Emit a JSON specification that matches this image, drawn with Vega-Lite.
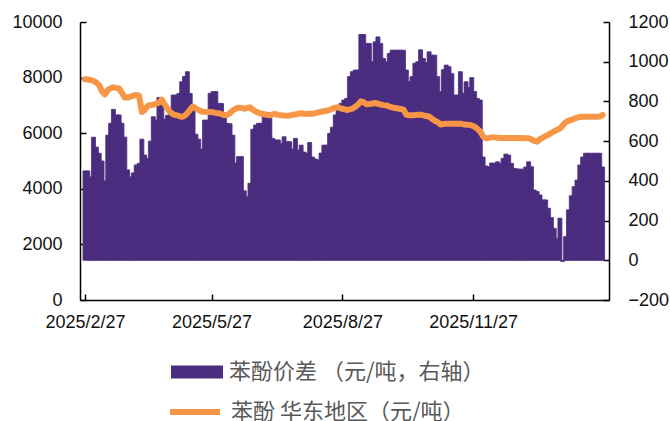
{
  "$schema": "https://vega.github.io/schema/vega-lite/v6.json",
  "width": 529,
  "height": 278,
  "autosize": {"type": "none"},
  "padding": {"left": 80, "top": 22, "right": 61, "bottom": 121},
  "background": "white",
  "config": {
    "view": {"stroke": null},
    "axis": {
      "labelFont": "Liberation Sans",
      "labelFontSize": 18,
      "labelColor": "#111111",
      "domainColor": "#000000",
      "domainWidth": 1.5,
      "tickColor": "#000000",
      "tickWidth": 1.5,
      "tickSize": -6,
      "grid": false,
      "title": null
    }
  },
  "data": {
    "values": [
      {"date": "2025-02-27", "spread": 450, "price": 7939},
      {"date": "2025-03-01", "spread": 450, "price": 7930},
      {"date": "2025-03-03", "spread": 420, "price": 7914},
      {"date": "2025-03-05", "spread": 620, "price": 7880},
      {"date": "2025-03-07", "spread": 570, "price": 7820},
      {"date": "2025-03-09", "spread": 539, "price": 7720},
      {"date": "2025-03-11", "spread": 500, "price": 7500},
      {"date": "2025-03-13", "spread": 400, "price": 7398},
      {"date": "2025-03-15", "spread": 630, "price": 7554},
      {"date": "2025-03-17", "spread": 690, "price": 7620},
      {"date": "2025-03-19", "spread": 760, "price": 7650},
      {"date": "2025-03-21", "spread": 732, "price": 7630},
      {"date": "2025-03-23", "spread": 732, "price": 7600},
      {"date": "2025-03-25", "spread": 690, "price": 7450},
      {"date": "2025-03-27", "spread": 620, "price": 7280},
      {"date": "2025-03-29", "spread": 455, "price": 7280},
      {"date": "2025-03-31", "spread": 420, "price": 7314},
      {"date": "2025-04-02", "spread": 440, "price": 7350},
      {"date": "2025-04-04", "spread": 480, "price": 7374},
      {"date": "2025-04-06", "spread": 488, "price": 7350},
      {"date": "2025-04-08", "spread": 610, "price": 6760},
      {"date": "2025-04-10", "spread": 530, "price": 6840},
      {"date": "2025-04-12", "spread": 513, "price": 6980},
      {"date": "2025-04-14", "spread": 600, "price": 7010},
      {"date": "2025-04-16", "spread": 723, "price": 7026},
      {"date": "2025-04-18", "spread": 706, "price": 7060},
      {"date": "2025-04-20", "spread": 820, "price": 7100},
      {"date": "2025-04-22", "spread": 807, "price": 7206},
      {"date": "2025-04-24", "spread": 710, "price": 7040},
      {"date": "2025-04-26", "spread": 730, "price": 6880},
      {"date": "2025-04-28", "spread": 740, "price": 6750},
      {"date": "2025-04-30", "spread": 832, "price": 6680},
      {"date": "2025-05-02", "spread": 832, "price": 6650},
      {"date": "2025-05-04", "spread": 840, "price": 6620},
      {"date": "2025-05-06", "spread": 899, "price": 6590},
      {"date": "2025-05-08", "spread": 925, "price": 6620},
      {"date": "2025-05-10", "spread": 950, "price": 6720},
      {"date": "2025-05-12", "spread": 840, "price": 6850},
      {"date": "2025-05-14", "spread": 760, "price": 6967},
      {"date": "2025-05-16", "spread": 635, "price": 6880},
      {"date": "2025-05-18", "spread": 610, "price": 6830},
      {"date": "2025-05-20", "spread": 560, "price": 6780},
      {"date": "2025-05-22", "spread": 706, "price": 6770},
      {"date": "2025-05-24", "spread": 706, "price": 6765},
      {"date": "2025-05-26", "spread": 841, "price": 6763},
      {"date": "2025-05-28", "spread": 849, "price": 6750},
      {"date": "2025-05-30", "spread": 850, "price": 6730},
      {"date": "2025-06-01", "spread": 790, "price": 6720},
      {"date": "2025-06-03", "spread": 790, "price": 6690},
      {"date": "2025-06-05", "spread": 720, "price": 6650},
      {"date": "2025-06-07", "spread": 690, "price": 6660},
      {"date": "2025-06-09", "spread": 688, "price": 6720},
      {"date": "2025-06-11", "spread": 630, "price": 6820},
      {"date": "2025-06-13", "spread": 490, "price": 6880},
      {"date": "2025-06-15", "spread": 522, "price": 6920},
      {"date": "2025-06-17", "spread": 522, "price": 6910},
      {"date": "2025-06-19", "spread": 350, "price": 6880},
      {"date": "2025-06-21", "spread": 320, "price": 6900},
      {"date": "2025-06-23", "spread": 388, "price": 6930},
      {"date": "2025-06-25", "spread": 660, "price": 6850},
      {"date": "2025-06-27", "spread": 681, "price": 6780},
      {"date": "2025-06-29", "spread": 690, "price": 6740},
      {"date": "2025-07-01", "spread": 690, "price": 6700},
      {"date": "2025-07-03", "spread": 735, "price": 6680},
      {"date": "2025-07-05", "spread": 745, "price": 6660},
      {"date": "2025-07-07", "spread": 740, "price": 6643},
      {"date": "2025-07-09", "spread": 614, "price": 6680},
      {"date": "2025-07-11", "spread": 606, "price": 6690},
      {"date": "2025-07-13", "spread": 606, "price": 6660},
      {"date": "2025-07-15", "spread": 589, "price": 6643},
      {"date": "2025-07-17", "spread": 622, "price": 6635},
      {"date": "2025-07-19", "spread": 597, "price": 6631},
      {"date": "2025-07-21", "spread": 597, "price": 6640},
      {"date": "2025-07-23", "spread": 560, "price": 6660},
      {"date": "2025-07-25", "spread": 614, "price": 6670},
      {"date": "2025-07-27", "spread": 555, "price": 6700},
      {"date": "2025-07-29", "spread": 580, "price": 6715},
      {"date": "2025-07-31", "spread": 545, "price": 6700},
      {"date": "2025-08-02", "spread": 539, "price": 6691},
      {"date": "2025-08-04", "spread": 593, "price": 6700},
      {"date": "2025-08-06", "spread": 520, "price": 6703},
      {"date": "2025-08-08", "spread": 510, "price": 6720},
      {"date": "2025-08-10", "spread": 505, "price": 6750},
      {"date": "2025-08-12", "spread": 540, "price": 6770},
      {"date": "2025-08-14", "spread": 580, "price": 6790},
      {"date": "2025-08-16", "spread": 580, "price": 6811},
      {"date": "2025-08-18", "spread": 639, "price": 6840},
      {"date": "2025-08-20", "spread": 670, "price": 6883},
      {"date": "2025-08-22", "spread": 732, "price": 6920},
      {"date": "2025-08-24", "spread": 780, "price": 6931},
      {"date": "2025-08-26", "spread": 790, "price": 6890},
      {"date": "2025-08-28", "spread": 807, "price": 6870},
      {"date": "2025-08-30", "spread": 815, "price": 6835},
      {"date": "2025-09-01", "spread": 925, "price": 6860},
      {"date": "2025-09-03", "spread": 950, "price": 6883},
      {"date": "2025-09-05", "spread": 958, "price": 6950},
      {"date": "2025-09-07", "spread": 958, "price": 7026},
      {"date": "2025-09-09", "spread": 1137, "price": 7146},
      {"date": "2025-09-11", "spread": 1137, "price": 7110},
      {"date": "2025-09-13", "spread": 1092, "price": 7040},
      {"date": "2025-09-15", "spread": 1092, "price": 7050},
      {"date": "2025-09-17", "spread": 1000, "price": 7070},
      {"date": "2025-09-19", "spread": 1100, "price": 7086},
      {"date": "2025-09-21", "spread": 1125, "price": 7060},
      {"date": "2025-09-23", "spread": 1092, "price": 7030},
      {"date": "2025-09-25", "spread": 1016, "price": 7010},
      {"date": "2025-09-27", "spread": 1000, "price": 7000},
      {"date": "2025-09-29", "spread": 1042, "price": 6960},
      {"date": "2025-10-01", "spread": 1058, "price": 6930},
      {"date": "2025-10-03", "spread": 1058, "price": 6906},
      {"date": "2025-10-05", "spread": 1058, "price": 6890},
      {"date": "2025-10-07", "spread": 1058, "price": 6870},
      {"date": "2025-10-09", "spread": 1058, "price": 6847},
      {"date": "2025-10-11", "spread": 958, "price": 6660},
      {"date": "2025-10-13", "spread": 900, "price": 6643},
      {"date": "2025-10-15", "spread": 925, "price": 6643},
      {"date": "2025-10-17", "spread": 992, "price": 6650},
      {"date": "2025-10-19", "spread": 1000, "price": 6660},
      {"date": "2025-10-21", "spread": 1060, "price": 6667},
      {"date": "2025-10-23", "spread": 1016, "price": 6640},
      {"date": "2025-10-25", "spread": 995, "price": 6620},
      {"date": "2025-10-27", "spread": 1050, "price": 6600},
      {"date": "2025-10-29", "spread": 1033, "price": 6520},
      {"date": "2025-10-31", "spread": 1033, "price": 6450},
      {"date": "2025-11-02", "spread": 925, "price": 6400},
      {"date": "2025-11-04", "spread": 850, "price": 6310},
      {"date": "2025-11-06", "spread": 960, "price": 6330},
      {"date": "2025-11-08", "spread": 983, "price": 6343},
      {"date": "2025-11-10", "spread": 975, "price": 6343},
      {"date": "2025-11-12", "spread": 940, "price": 6343},
      {"date": "2025-11-14", "spread": 832, "price": 6343},
      {"date": "2025-11-16", "spread": 832, "price": 6343},
      {"date": "2025-11-18", "spread": 950, "price": 6343},
      {"date": "2025-11-20", "spread": 841, "price": 6320},
      {"date": "2025-11-22", "spread": 899, "price": 6300},
      {"date": "2025-11-24", "spread": 870, "price": 6300},
      {"date": "2025-11-26", "spread": 920, "price": 6280},
      {"date": "2025-11-28", "spread": 850, "price": 6235},
      {"date": "2025-11-30", "spread": 815, "price": 6150},
      {"date": "2025-12-02", "spread": 807, "price": 6060},
      {"date": "2025-12-04", "spread": 520, "price": 5880},
      {"date": "2025-12-06", "spread": 475, "price": 5815},
      {"date": "2025-12-08", "spread": 471, "price": 5830},
      {"date": "2025-12-10", "spread": 490, "price": 5850},
      {"date": "2025-12-12", "spread": 488, "price": 5850},
      {"date": "2025-12-14", "spread": 496, "price": 5840},
      {"date": "2025-12-16", "spread": 488, "price": 5830},
      {"date": "2025-12-18", "spread": 513, "price": 5827},
      {"date": "2025-12-20", "spread": 535, "price": 5827},
      {"date": "2025-12-22", "spread": 530, "price": 5827},
      {"date": "2025-12-24", "spread": 488, "price": 5827},
      {"date": "2025-12-26", "spread": 463, "price": 5827},
      {"date": "2025-12-28", "spread": 460, "price": 5827},
      {"date": "2025-12-30", "spread": 459, "price": 5827},
      {"date": "2026-01-01", "spread": 459, "price": 5820},
      {"date": "2026-01-03", "spread": 470, "price": 5815},
      {"date": "2026-01-05", "spread": 496, "price": 5815},
      {"date": "2026-01-07", "spread": 471, "price": 5780},
      {"date": "2026-01-09", "spread": 354, "price": 5720},
      {"date": "2026-01-11", "spread": 346, "price": 5695},
      {"date": "2026-01-13", "spread": 329, "price": 5790},
      {"date": "2026-01-15", "spread": 304, "price": 5840},
      {"date": "2026-01-17", "spread": 304, "price": 5899},
      {"date": "2026-01-19", "spread": 262, "price": 5950},
      {"date": "2026-01-21", "spread": 215, "price": 6010},
      {"date": "2026-01-23", "spread": 161, "price": 6070},
      {"date": "2026-01-25", "spread": 111, "price": 6120},
      {"date": "2026-01-27", "spread": 212, "price": 6170},
      {"date": "2026-01-29", "spread": -6, "price": 6280},
      {"date": "2026-01-31", "spread": 119, "price": 6400},
      {"date": "2026-02-02", "spread": 254, "price": 6450},
      {"date": "2026-02-04", "spread": 325, "price": 6475},
      {"date": "2026-02-06", "spread": 371, "price": 6520},
      {"date": "2026-02-08", "spread": 404, "price": 6560},
      {"date": "2026-02-10", "spread": 480, "price": 6580},
      {"date": "2026-02-12", "spread": 520, "price": 6595},
      {"date": "2026-02-14", "spread": 539, "price": 6595},
      {"date": "2026-02-16", "spread": 539, "price": 6595},
      {"date": "2026-02-18", "spread": 539, "price": 6595},
      {"date": "2026-02-20", "spread": 539, "price": 6595},
      {"date": "2026-02-22", "spread": 539, "price": 6595},
      {"date": "2026-02-24", "spread": 539, "price": 6600},
      {"date": "2026-02-26", "spread": 470, "price": 6655}
    ]
  },
  "layer": [
    {
      "mark": {"type": "bar", "width": 4, "clip": true, "stroke": "#4B2D7F", "strokeWidth": 0.8},
      "encoding": {
        "x": {
          "field": "date",
          "type": "temporal",
          "scale": {
            "type": "utc",
            "domain": [
              {"year": 2025, "month": 2, "date": 27, "utc": true},
              {"year": 2026, "month": 2, "date": 27, "utc": true}
            ]
          },
          "axis": {
            "values": [
              {"year": 2025, "month": 2, "date": 27, "utc": true},
              {"year": 2025, "month": 5, "date": 27, "utc": true},
              {"year": 2025, "month": 8, "date": 27, "utc": true},
              {"year": 2025, "month": 11, "date": 27, "utc": true}
            ],
            "format": "%Y/%-m/%-d",
            "labelPadding": 19,
            "labelFlush": false,
            "title": null
          }
        },
        "y": {
          "field": "spread",
          "type": "quantitative",
          "scale": {"domain": [-200, 1200], "nice": false},
          "axis": {
            "orient": "right",
            "values": [-200, 0, 200, 400, 600, 800, 1000, 1200],
            "format": "d",
            "labelPadding": 25,
            "title": null
          }
        },
        "fill": {
          "datum": "苯酚价差 （元/吨，右轴）",
          "scale": {"range": ["#4B2D7F"]},
          "legend": {
            "orient": "none",
            "legendX": 91,
            "legendY": 324,
            "title": null,
            "padding": 0,
            "symbolType": "M-1,-0.25H1V0.25H-1Z",
            "symbolSize": 2704,
            "symbolStrokeWidth": 0,
            "labelFont": "Noto Sans CJK SC",
            "labelFontSize": 22,
            "labelColor": "#595959",
            "labelOffset": 6,
            "labelLimit": 400
          }
        }
      }
    },
    {
      "mark": {"type": "line", "strokeWidth": 6, "strokeCap": "round", "strokeJoin": "round", "clip": true},
      "encoding": {
        "x": {"field": "date", "type": "temporal"},
        "y": {
          "field": "price",
          "type": "quantitative",
          "scale": {"domain": [0, 10000], "nice": false},
          "axis": {
            "orient": "left",
            "values": [0, 2000, 4000, 6000, 8000, 10000],
            "format": "d",
            "labelPadding": 24,
            "title": null
          }
        },
        "stroke": {
          "datum": "苯酚 华东地区（元/吨）",
          "scale": {"range": ["#F79646"]},
          "legend": {
            "orient": "none",
            "legendX": 87,
            "legendY": 362,
            "title": null,
            "padding": 0,
            "symbolType": "stroke",
            "symbolSize": 2500,
            "symbolStrokeWidth": 6,
            "labelFont": "Noto Sans CJK SC",
            "labelFontSize": 22,
            "labelColor": "#595959",
            "labelOffset": 8,
            "labelLimit": 400
          }
        }
      }
    }
  ],
  "resolve": {"scale": {"y": "independent"}}
}
